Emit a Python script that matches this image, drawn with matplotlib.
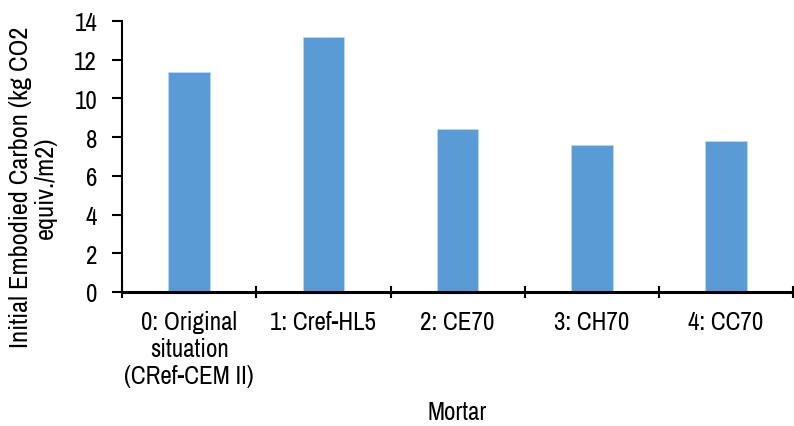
import matplotlib.pyplot as plt
import numpy as np

categories = ["0: Original\nsituation\n(CRef-CEM II)", "1: Cref-HL5", "2: CE70", "3: CH70", "4: CC70"]
values = [11.36, 13.15, 8.43, 7.58, 7.81]

plt.rcParams['font.family'] = ['Archivo Narrow', 'DejaVu Sans']

fig = plt.figure(figsize=(7.94, 4.27), dpi=100)
ax = fig.add_axes([0.1537, 0.314, 0.8453, 0.6345])

x = np.arange(len(categories))
ax.bar(x, values, width=0.31, color="#5B9BD5", edgecolor="#BDD7EE", linewidth=0.6)

ax.set_xlim(-0.5, len(categories) - 0.5)
ax.set_ylim(0, 14)
ax.set_yticks(np.arange(0, 15, 2))
ax.set_xticks(x)
ax.set_xticklabels(categories, fontsize=18, linespacing=1.2)
ax.set_xticks(np.arange(-0.5, len(categories)), minor=True)
ax.tick_params(axis='x', which='major', length=0, pad=13)
ax.tick_params(axis='x', which='minor', length=8, width=1.5, direction='inout')
ax.tick_params(axis='y', labelsize=18, length=7, width=1.5, direction='out', pad=11)

for s in ['top', 'right']:
    ax.spines[s].set_visible(False)
ax.spines['left'].set_linewidth(1.5)
ax.spines['bottom'].set_linewidth(2.2)

ax.set_ylabel("Initial Embodied Carbon (kg CO2\nequiv./m2)", fontsize=19, linespacing=1.1)
ax.yaxis.set_label_coords(-0.097, 0.39)
ax.set_xlabel("Mortar", fontsize=18, labelpad=10)

fig.savefig("out.png", dpi=100)
